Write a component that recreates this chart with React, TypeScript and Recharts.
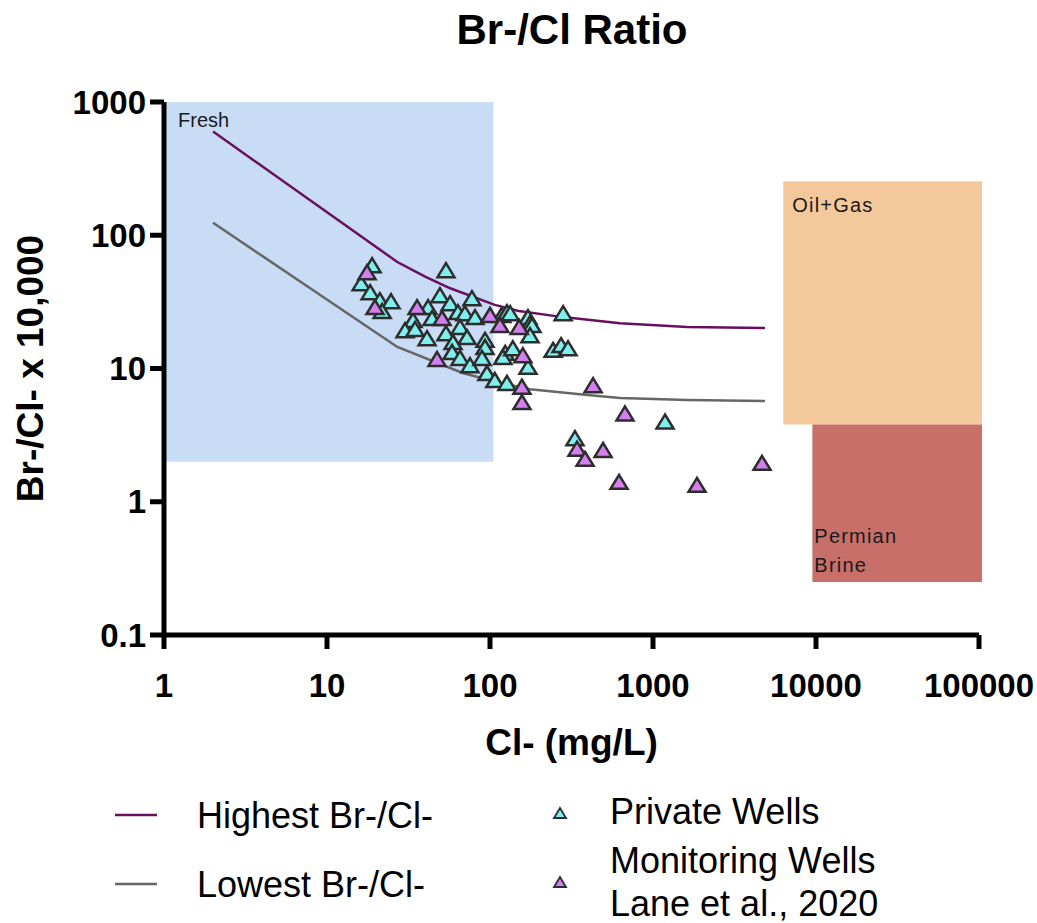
import React from 'react';
import { ScatterChart, Scatter, XAxis, YAxis, ReferenceArea } from 'recharts';

const xTicks = [1, 10, 100, 1000, 10000, 100000];
const yTicks = [0.1, 1, 10, 100, 1000];

// Boundary lines: [Cl- mg/L, Br-/Cl- x 10,000]
const highestLine: [number, number][] = [
  [2, 600], [27, 63], [40, 49], [57, 40], [107, 30], [150, 27], [280, 24.3], [628, 21.9], [1617, 20.5], [4865, 20.1],
];
const lowestLine: [number, number][] = [
  [2, 124], [27, 14.5], [68, 9.25], [110, 7.9], [176, 7.0], [411, 6.3], [628, 6.0], [1617, 5.8], [4865, 5.7],
];

const privateWells: [number, number][] = [
  [18.9, 59.6], [16.2, 43.7], [18.4, 37.4], [21.1, 32.6], [24.7, 32.0], [21.8, 27.0], [53.7, 54.7], [49.3, 35.5],
  [56.9, 30.9], [41.7, 28.9], [33.7, 23.1], [30.1, 19.4], [34.7, 19.8], [44.1, 23.9], [41.1, 16.9], [53.7, 18.4],
  [77.5, 33.7], [63.6, 26.5], [70.2, 26.0], [80.9, 24.3], [65.5, 20.5], [72.3, 17.2], [59.3, 15.8], [93.2, 16.4],
  [93.2, 14.5], [58.5, 13.3], [65.5, 12.0], [75.4, 10.6], [89.3, 12.0], [95.8, 9.25], [107, 8.2], [118, 25.2],
  [127, 26.5], [133, 26.0], [171, 24.3], [176, 21.9], [181, 21.2], [176, 17.8], [281, 26.0], [124, 13.1],
  [120, 12.2], [138, 14.2], [171, 10.3], [127, 7.8], [244, 13.8], [273, 15.0], [301, 14.2], [1185, 4.0], [332, 3.0],
];

const monitoringWells: [number, number][] = [
  [17.6, 52.8], [19.7, 28.9], [35.7, 28.9], [50.8, 23.9], [47.3, 11.8], [100, 25.2], [115, 21.2], [151, 20.5],
  [159, 12.6], [157, 7.3], [157, 5.6], [429, 7.5], [673, 4.6], [342, 2.5], [383, 2.1], [494, 2.45], [619, 1.41],
  [1862, 1.34], [4664, 1.96],
];

const toRows = (arr: [number, number][]) => arr.map(([x, y]) => ({ x, y }));

const FONT = '"Liberation Sans", Arial, sans-serif';
const CYAN = '#7eefec';
const MAGENTA = '#d47ff0';
const PURPLE = '#6a0f5f';
const GRAY = '#666666';

const Triangle = (fill: string) => (props: any) => {
  const { cx, cy } = props;
  if (cx == null || cy == null) return <g />;
  const w = 8.5;
  const h = 7;
  return (
    <polygon
      points={`${cx},${cy - h} ${cx - w},${cy + h} ${cx + w},${cy + h}`}
      fill={fill}
      stroke="#2d2d2d"
      strokeWidth={2.5}
      strokeLinejoin="miter"
    />
  );
};

const NoShape = () => <g />;

const areaLabel = (lines: string[], dx: number, dys: number[], spacing: number) => (props: any) => {
  const vb = props.viewBox || {};
  return (
    <g>
      {lines.map((t, i) => (
        <text key={i} x={vb.x + dx} y={vb.y + dys[i]} fontSize={20} fill="#1a1a1a" fontFamily={FONT} letterSpacing={spacing}>
          {t}
        </text>
      ))}
    </g>
  );
};

const tickStyle = { fontSize: 33, fontWeight: 'bold', fill: '#000', fontFamily: FONT } as any;
const titleStyle = { fontSize: 37, fontWeight: 'bold', fill: '#000', fontFamily: FONT } as any;

export default function App() {
  return (
    <div style={{ position: 'absolute', left: 0, top: 0, width: 1037, height: 923, background: '#fff', fontFamily: FONT }}>
      <ScatterChart width={1037} height={923} margin={{ top: 102, right: 58, bottom: 168, left: 14 }}>
        <ReferenceArea x1={1} x2={105} y1={2} y2={1000} fill="#c8dcf5" fillOpacity={1} ifOverflow="visible"
          label={areaLabel(['Fresh'], 14, [25], 0)} />
        <ReferenceArea x1={6300} x2={104300} y1={3.8} y2={254} fill="#f3c89b" fillOpacity={1} ifOverflow="visible"
          label={areaLabel(['Oil+Gas'], 9, [31], 1.2)} />
        <ReferenceArea x1={9500} x2={104300} y1={0.25} y2={3.8} fill="#c86f6a" fillOpacity={1} ifOverflow="visible"
          label={areaLabel(['Permian', 'Brine'], 2, [119, 148], 1.2)} />
        <XAxis
          dataKey="x"
          type="number"
          scale="log"
          domain={[1, 100000]}
          ticks={xTicks}
          allowDataOverflow
          height={120}
          tickSize={14}
          tickMargin={25}
          tick={tickStyle}
          axisLine={{ stroke: '#000', strokeWidth: 5 }}
          tickLine={{ stroke: '#000', strokeWidth: 5 }}
          label={{ value: 'Cl- (mg/L)', position: 'insideBottom', offset: 0, style: titleStyle }}
        />
        <YAxis
          dataKey="y"
          type="number"
          scale="log"
          domain={[0.1, 1000]}
          ticks={yTicks}
          allowDataOverflow
          width={150}
          tickSize={14}
          tickMargin={4}
          tick={tickStyle}
          axisLine={{ stroke: '#000', strokeWidth: 5 }}
          tickLine={{ stroke: '#000', strokeWidth: 5 }}
          label={{ value: 'Br-/Cl- x 10,000', angle: -90, position: 'insideLeft', offset: 16, style: { ...titleStyle, textAnchor: 'middle' } }}
        />
        <Scatter name="Highest Br-/Cl-" data={toRows(highestLine)} line={{ stroke: PURPLE, strokeWidth: 2.5 }} shape={NoShape} isAnimationActive={false} />
        <Scatter name="Lowest Br-/Cl-" data={toRows(lowestLine)} line={{ stroke: GRAY, strokeWidth: 2.5 }} shape={NoShape} isAnimationActive={false} />
        <Scatter name="Private Wells" data={toRows(privateWells)} shape={Triangle(CYAN)} isAnimationActive={false} />
        <Scatter name="Monitoring Wells" data={toRows(monitoringWells)} shape={Triangle(MAGENTA)} isAnimationActive={false} />
      </ScatterChart>
      <div style={{ position: 'absolute', left: 272, width: 600, top: 6, textAlign: 'center', fontSize: 42, fontWeight: 'bold', lineHeight: '48px', color: '#000' }}>
        Br-/Cl Ratio
      </div>
      <svg width={1037} height={160} style={{ position: 'absolute', left: 0, top: 770 }}>
        <line x1={115} x2={157} y1={45} y2={45} stroke={PURPLE} strokeWidth={2.5} />
        <text x={197} y={58} fontSize={36} fontFamily={FONT} fill="#000">Highest Br-/Cl-</text>
        <line x1={115} x2={157} y1={114} y2={114} stroke={GRAY} strokeWidth={2.5} />
        <text x={197} y={127} fontSize={36} fontFamily={FONT} fill="#000">Lowest Br-/Cl-</text>
        <polygon points="560,38 554,48 566,48" fill={CYAN} stroke="#2d2d2d" strokeWidth={1.8} />
        <text x={610} y={54} fontSize={36} fontFamily={FONT} fill="#000">Private Wells</text>
        <polygon points="560,107 554,117 566,117" fill={MAGENTA} stroke="#2d2d2d" strokeWidth={1.8} />
        <text x={610} y={103} fontSize={36} fontFamily={FONT} fill="#000">Monitoring Wells</text>
        <text x={610} y={146} fontSize={36} fontFamily={FONT} fill="#000">Lane et al., 2020</text>
      </svg>
    </div>
  );
}
